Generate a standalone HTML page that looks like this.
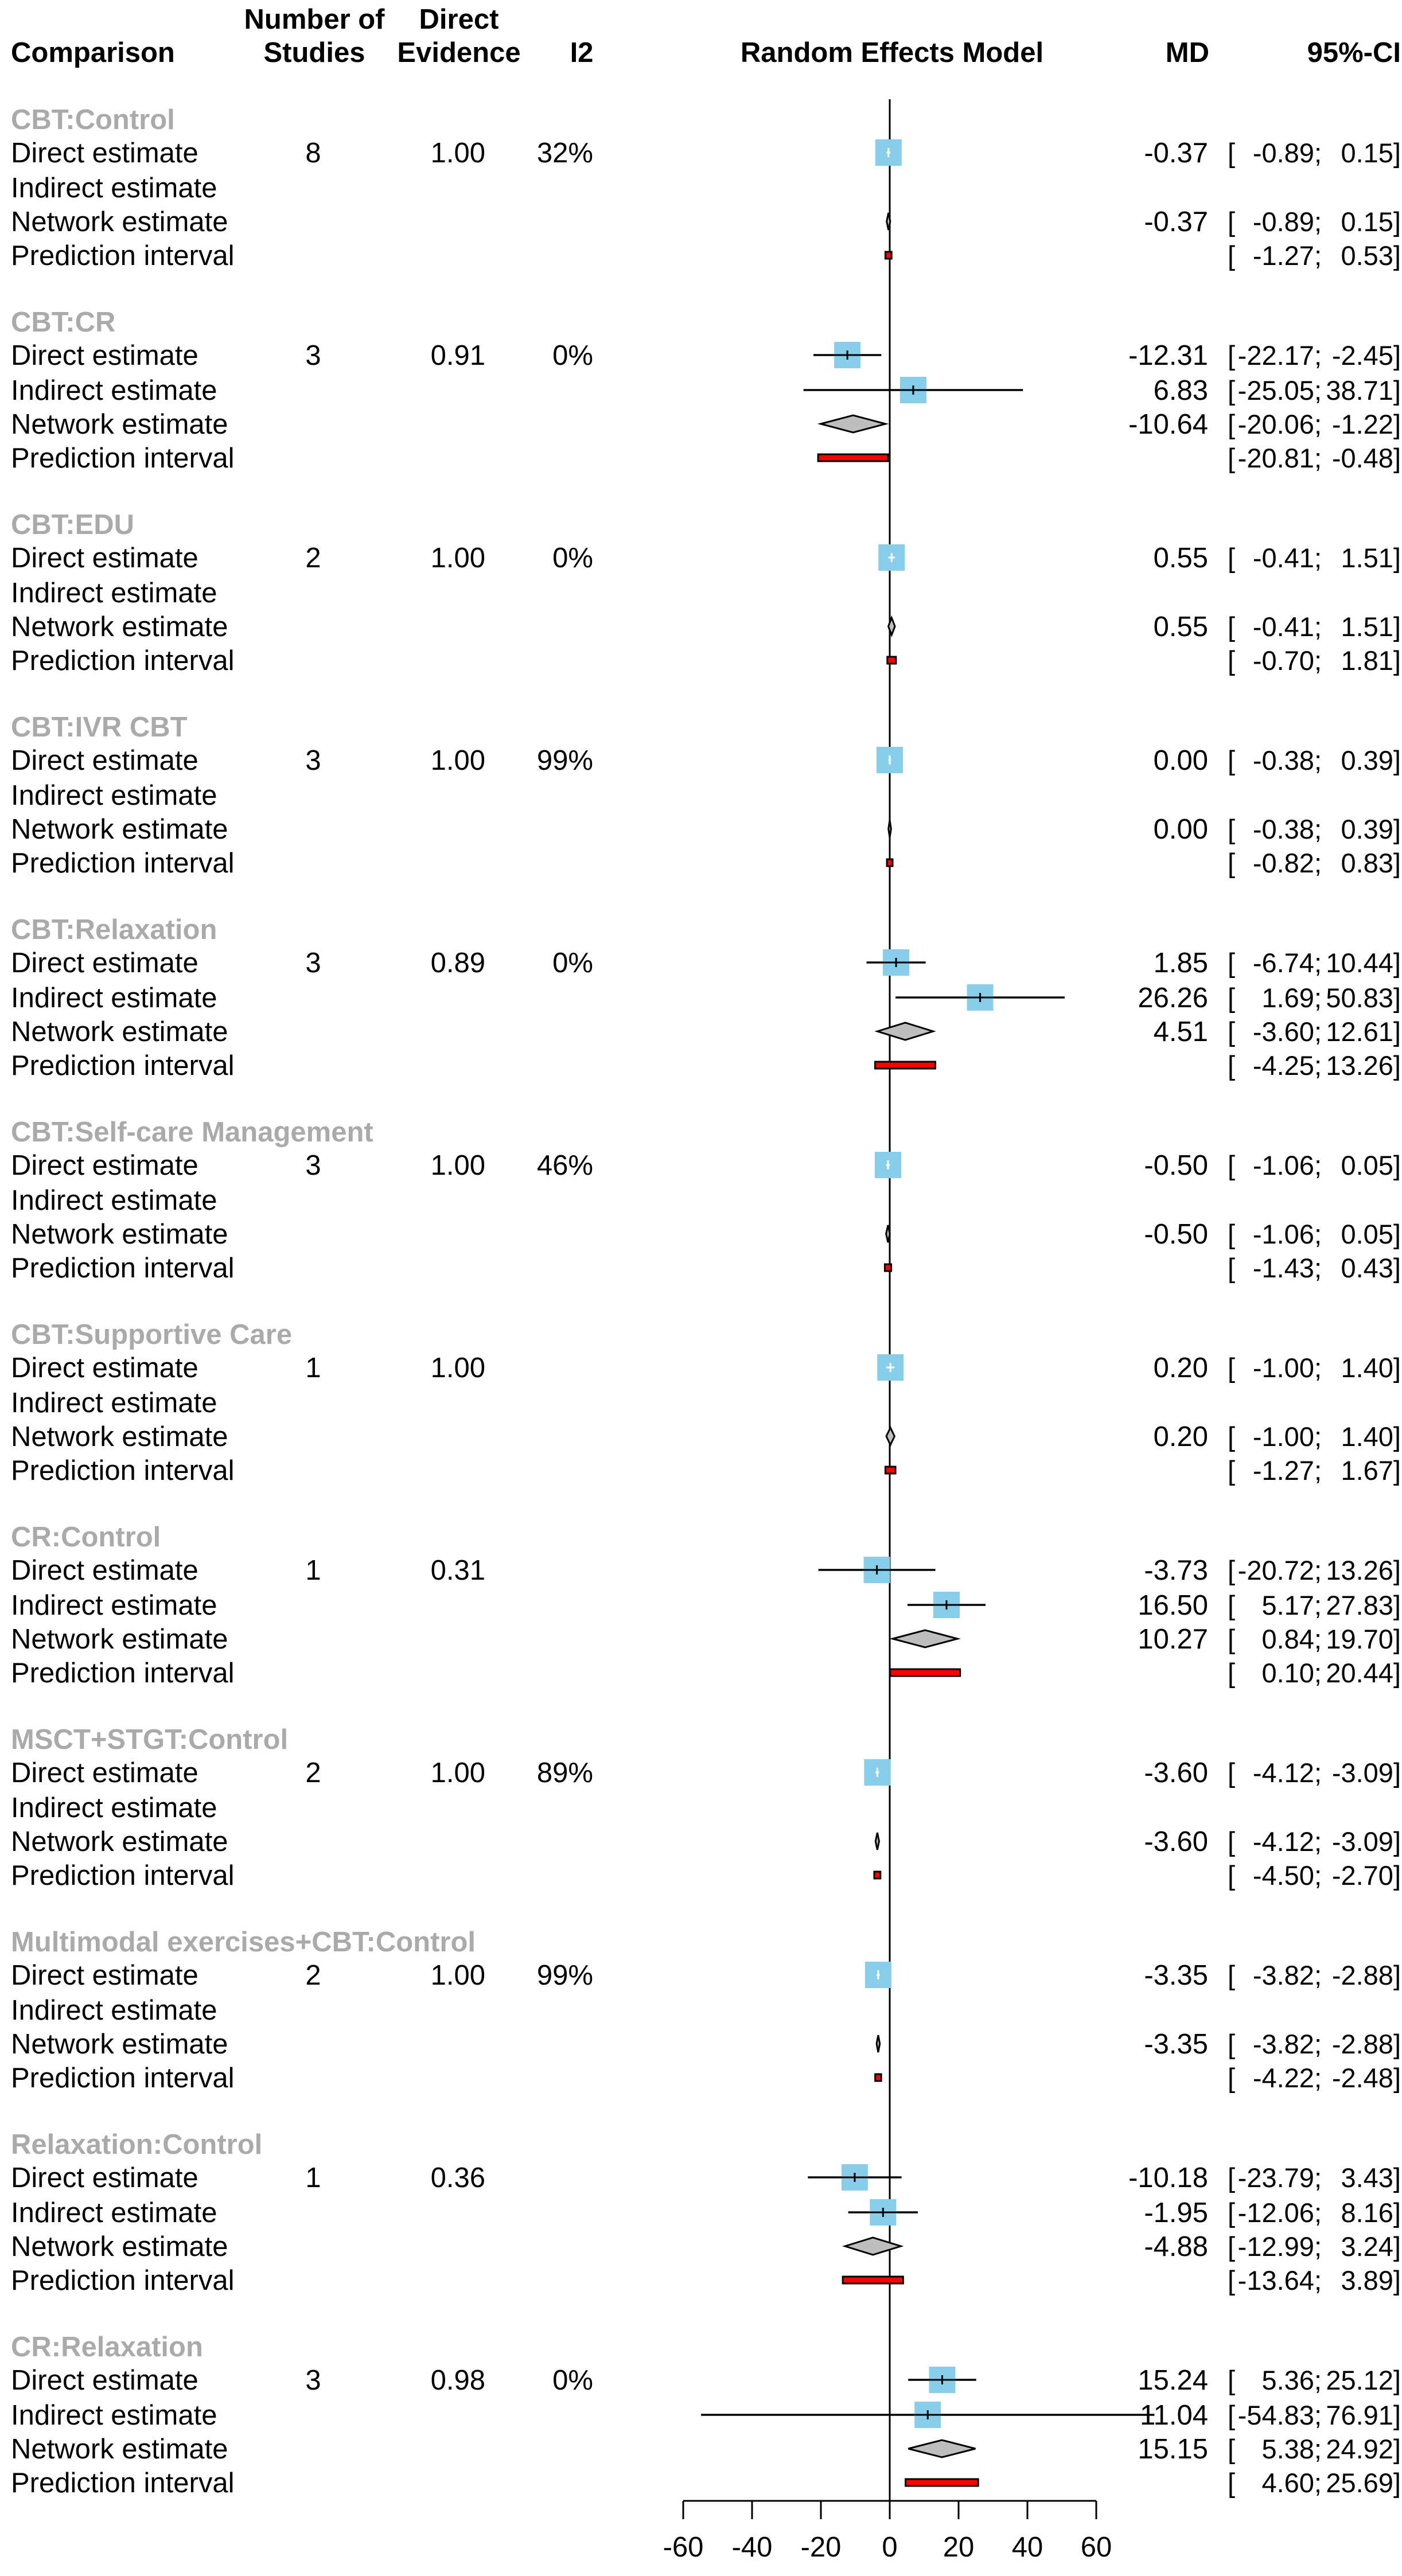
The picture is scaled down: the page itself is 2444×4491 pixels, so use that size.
<!DOCTYPE html>
<html><head><meta charset="utf-8"><style>
html,body{margin:0;padding:0;background:#fff;}
svg{display:block;}
text{font-family:"Liberation Sans",Arial,sans-serif;font-size:49px;fill:#000;}
.b{font-weight:bold;}
.g{font-weight:bold;fill:#aaaaaa;}
.ci{font-size:47px;}
</style></head><body>
<svg id="chart" width="2444" height="4491" viewBox="0 0 2444 4491" xmlns="http://www.w3.org/2000/svg">
<g id="hdr">
<text class="b" x="19" y="108">Comparison</text>
<text class="b" x="548" y="50" text-anchor="middle">Number of</text>
<text class="b" x="548" y="108" text-anchor="middle">Studies</text>
<text class="b" x="800" y="50" text-anchor="middle">Direct</text>
<text class="b" x="800" y="108" text-anchor="middle">Evidence</text>
<text class="b" x="1014" y="108" text-anchor="middle">I2</text>
<text class="b" x="1555" y="108" text-anchor="middle">Random Effects Model</text>
<text class="b" x="2108" y="108" text-anchor="end">MD</text>
<text class="b" x="2442" y="108" text-anchor="end">95%-CI</text>
</g>
</svg>
<script>
const groupNames=["CBT:Control","CBT:CR","CBT:EDU","CBT:IVR CBT","CBT:Relaxation","CBT:Self-care Management","CBT:Supportive Care","CR:Control","MSCT+STGT:Control","Multimodal exercises+CBT:Control","Relaxation:Control","CR:Relaxation"];
const nStudies=["8","3","2","3","3","3","1","1","2","2","1","3"];
const directEv=["1.00","0.91","1.00","1.00","0.89","1.00","1.00","0.31","1.00","1.00","0.36","0.98"];
const i2=["32%","0%","0%","99%","0%","46%","","","89%","99%","","0%"];
const dMD=[-0.37,-12.31,0.55,0.00,1.85,-0.50,0.20,-3.73,-3.60,-3.35,-10.18,15.24];
const dLo=[-0.89,-22.17,-0.41,-0.38,-6.74,-1.06,-1.00,-20.72,-4.12,-3.82,-23.79,5.36];
const dHi=[0.15,-2.45,1.51,0.39,10.44,0.05,1.40,13.26,-3.09,-2.88,3.43,25.12];
const iMD=[null,6.83,null,null,26.26,null,null,16.50,null,null,-1.95,11.04];
const iLo=[null,-25.05,null,null,1.69,null,null,5.17,null,null,-12.06,-54.83];
const iHi=[null,38.71,null,null,50.83,null,null,27.83,null,null,8.16,76.91];
const nMD=[-0.37,-10.64,0.55,0.00,4.51,-0.50,0.20,10.27,-3.60,-3.35,-4.88,15.15];
const nLo=[-0.89,-20.06,-0.41,-0.38,-3.60,-1.06,-1.00,0.84,-4.12,-3.82,-12.99,5.38];
const nHi=[0.15,-1.22,1.51,0.39,12.61,0.05,1.40,19.70,-3.09,-2.88,3.24,24.92];
const pLo=[-1.27,-20.81,-0.70,-0.82,-4.25,-1.43,-1.27,0.10,-4.50,-4.22,-13.64,4.60];
const pHi=[0.53,-0.48,1.81,0.83,13.26,0.43,1.67,20.44,-2.70,-2.48,3.89,25.69];
const ticks=[-60,-40,-20,0,20,40,60];

const NS="http://www.w3.org/2000/svg";
const svg=document.getElementById('chart');
const X0=1551, SC=6.0;
const xs=v=>X0+v*SC;
const G0=208, GS=353, OFF=[58,119,178,237];
const gy=g=>G0+g*GS;
function mk(tag,attrs,parent){const e=document.createElementNS(NS,tag);for(const k in attrs)e.setAttribute(k,attrs[k]);(parent||svg).appendChild(e);return e;}
function txt(s,x,y,cls,anchor,parent){const t=mk('text',{x:x,y:y+17},parent);if(cls)t.setAttribute('class',cls);if(anchor)t.setAttribute('text-anchor',anchor);t.setAttribute('xml:space','preserve');t.textContent=s;return t;}
const f2=v=>v.toFixed(2);

const zl=mk('line',{x1:xs(0),x2:xs(0),y1:173,y2:4360,stroke:'#000','stroke-width':3});



function square(md,lo,hi,y,parent,name){
  const w=46,h=46;
  const l=mk('line',{x1:xs(lo),x2:xs(hi),y1:y,y2:y,stroke:'#000','stroke-width':3.5},parent);
  
  
  const r=mk('rect',{x:xs(md)-w/2,y:y-h/2,width:w,height:h,fill:'#87ceeb'},parent);
  
  
  const inside=(xs(lo)>=xs(md)-w/2)&&(xs(hi)<=xs(md)+w/2);
  const col=inside?'#fff':'#000';
  const l2=mk('line',{x1:Math.max(xs(lo),xs(md)-w/2),x2:Math.min(xs(hi),xs(md)+w/2),y1:y,y2:y,stroke:col,'stroke-width':3},parent);
  
  
  const tk=mk('line',{x1:xs(md),x2:xs(md),y1:y-8,y2:y+8,stroke:col,'stroke-width':3},parent);
  
  
}
function ciText(md,lo,hi,y,parent){
  if(md!==null)txt(f2(md),2106,y,null,'end',parent);
  txt('[',2140,y,'ci',null,parent);
  txt(f2(lo)+';',2304,y,'ci','end',parent);
  txt(f2(hi)+']',2442,y,'ci','end',parent);
}

for(let g=0;g<groupNames.length;g++){
  const grp=mk('g',{});
  
  
  const y0=gy(g);
  txt(groupNames[g],19,y0,'g',null,grp);
  const yd=y0+OFF[0], yi=y0+OFF[1], yn=y0+OFF[2], yp=y0+OFF[3];
  txt('Direct estimate',19,yd,null,null,grp);
  txt('Indirect estimate',19,yi,null,null,grp);
  txt('Network estimate',19,yn,null,null,grp);
  txt('Prediction interval',19,yp,null,null,grp);
  txt(nStudies[g],546,yd,null,'middle',grp);
  txt(directEv[g],846,yd,null,'end',grp);
  if(i2[g])txt(i2[g],1034,yd,null,'end',grp);
  square(dMD[g],dLo[g],dHi[g],yd,grp,'direct');
  ciText(dMD[g],dLo[g],dHi[g],yd,grp);
  if(iMD[g]!==null){square(iMD[g],iLo[g],iHi[g],yi,grp,'indirect');ciText(iMD[g],iLo[g],iHi[g],yi,grp);}
  const xl=xs(nLo[g]), xr=xs(nHi[g]), xm=xs(nMD[g]);
  const dm=mk('polygon',{points:`${xl},${yn} ${xm},${yn-15} ${xr},${yn} ${xm},${yn+15}`,fill:'#bebebe',stroke:'#000','stroke-width':3},grp);
  
  
  ciText(nMD[g],nLo[g],nHi[g],yn,grp);
  const pr=mk('rect',{x:xs(pLo[g]),y:yp-6,width:Math.max(4,xs(pHi[g])-xs(pLo[g])),height:12,fill:'#ff0000',stroke:'#000','stroke-width':3},grp);
  
  
  ciText(null,pLo[g],pHi[g],yp,grp);
}
const ax=mk('g',{});


mk('line',{x1:xs(ticks[0]),x2:xs(ticks[ticks.length-1]),y1:4360,y2:4360,stroke:'#000','stroke-width':3},ax);
for(const t of ticks){
  mk('line',{x1:xs(t),x2:xs(t),y1:4360,y2:4392,stroke:'#000','stroke-width':3},ax);
  const tl=txt(String(t),xs(t),4440,null,'middle',ax);
  
  
}
</script>
</body></html>
